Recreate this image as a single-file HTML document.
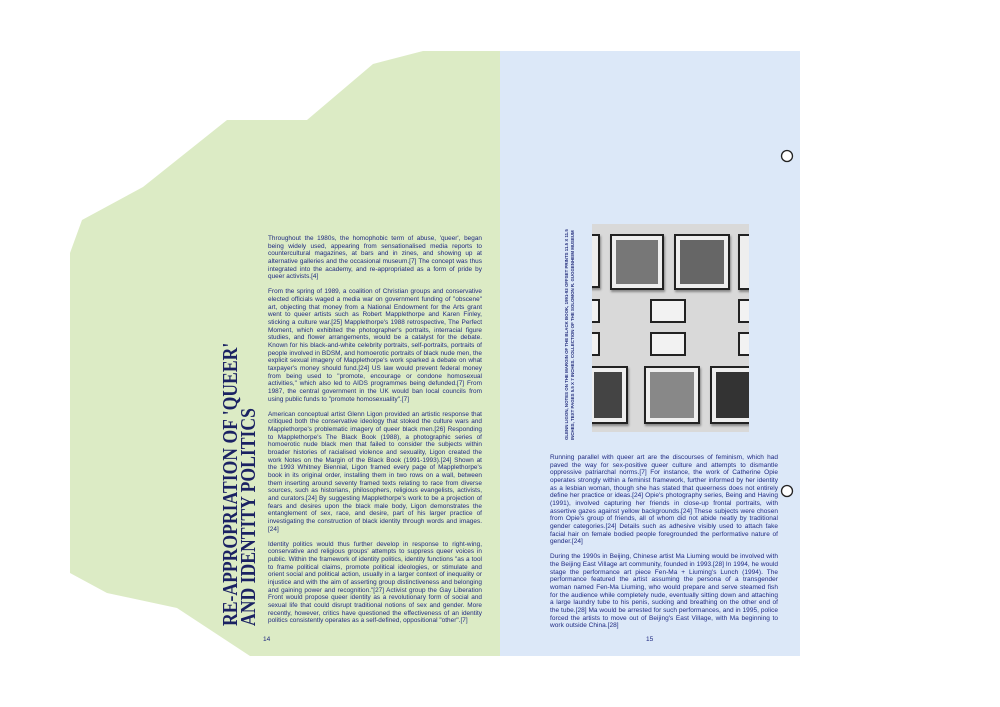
<!DOCTYPE html>
<html><head><meta charset="utf-8"><style>
body{margin:0;width:1000px;height:707px;background:#fff;position:relative;overflow:hidden;font-family:"Liberation Sans",sans-serif}
.abs{position:absolute}
.txt{color:#1e2880;font-size:6.5px;line-height:7.65px;text-align:justify;letter-spacing:0.03px}
.txt p{margin:0 0 7.5px 0}
.l{font-size:6.4px;letter-spacing:0.03px}
.ph{position:absolute;background:#eee;border:2px solid #222;box-shadow:1px 2px 2px #888}
.ph i{position:absolute;left:4px;top:4px;right:4px;bottom:4px;background:#555}
.pl{position:absolute;background:#f2f2f2;border:2px solid #222}
</style></head><body>
<svg class="abs" style="left:0;top:0" width="1000" height="707">
<polygon points="423,51 500,51 500,656 250,656 177,608 107,593 70,573 70,253 82,220 143,187 227,120 307,120 373,64" fill="#dcebc5"/>
<rect x="500" y="51" width="300" height="605" fill="#dce8f8"/>
<circle cx="787" cy="156" r="5.5" fill="#fff" stroke="#222" stroke-width="1.3"/>
<circle cx="787" cy="491" r="5.5" fill="#fff" stroke="#222" stroke-width="1.3"/>
</svg>

<div class="abs" style="left:221px;top:626px;transform-origin:0 0;transform:rotate(-90deg) scaleX(0.84);font-family:'Liberation Serif',serif;font-weight:bold;font-size:21px;line-height:18px;color:#1b2263;white-space:nowrap">RE-APPROPRIATION OF 'QUEER'<br>AND IDENTITY POLITICS</div>

<div class="abs txt l" style="left:268px;top:235px;width:214px">
<p>Throughout the 1980s, the homophobic term of abuse, 'queer', began being widely used, appearing from sensationalised media reports to countercultural magazines, at bars and in zines, and showing up at alternative galleries and the occasional museum.[7] The concept was thus integrated into the academy, and re-appropriated as a form of pride by queer activists.[4]</p>
<p>From the spring of 1989, a coalition of Christian groups and conservative elected officials waged a media war on government funding of "obscene" art, objecting that money from a National Endowment for the Arts grant went to queer artists such as Robert Mapplethorpe and Karen Finley, sticking a culture war.[25] Mapplethorpe's 1988 retrospective, The Perfect Moment, which exhibited the photographer's portraits, interracial figure studies, and flower arrangements, would be a catalyst for the debate. Known for his black-and-white celebrity portraits, self-portraits, portraits of people involved in BDSM, and homoerotic portraits of black nude men, the explicit sexual imagery of Mapplethorpe's work sparked a debate on what taxpayer's money should fund.[24] US law would prevent federal money from being used to "promote, encourage or condone homosexual activities," which also led to AIDS programmes being defunded.[7] From 1987, the central government in the UK would ban local councils from using public funds to "promote homosexuality".[7]</p>
<p>American conceptual artist Glenn Ligon provided an artistic response that critiqued both the conservative ideology that stoked the culture wars and Mapplethorpe's problematic imagery of queer black men.[26] Responding to Mapplethorpe's The Black Book (1988), a photographic series of homoerotic nude black men that failed to consider the subjects within broader histories of racialised violence and sexuality, Ligon created the work Notes on the Margin of the Black Book (1991-1993).[24] Shown at the 1993 Whitney Biennial, Ligon framed every page of Mapplethorpe's book in its original order, installing them in two rows on a wall, between them inserting around seventy framed texts relating to race from diverse sources, such as historians, philosophers, religious evangelists, activists, and curators.[24] By suggesting Mapplethorpe's work to be a projection of fears and desires upon the black male body, Ligon demonstrates the entanglement of sex, race, and desire, part of his larger practice of investigating the construction of black identity through words and images.[24]</p>
<p>Identity politics would thus further develop in response to right-wing, conservative and religious groups' attempts to suppress queer voices in public. Within the framework of identity politics, identity functions "as a tool to frame political claims, promote political ideologies, or stimulate and orient social and political action, usually in a larger context of inequality or injustice and with the aim of asserting group distinctiveness and belonging and gaining power and recognition."[27] Activist group the Gay Liberation Front would propose queer identity as a revolutionary form of social and sexual life that could disrupt traditional notions of sex and gender. More recently, however, critics have questioned the effectiveness of an identity politics consistently operates as a self-defined, oppositional "other".[7]</p>
</div>
<div class="abs txt" style="left:263px;top:636px">14</div>

<div class="abs" style="left:564px;top:440px;transform-origin:0 0;transform:rotate(-90deg);width:216px;font-size:4.4px;font-weight:bold;line-height:6px;color:#26307e;white-space:nowrap;overflow:hidden">GLENN LIGON, NOTES ON THE MARGIN OF THE BLACK BOOK, 1991-93 OFFSET PRINTS 11.5 X 11.5<br>INCHES, TEXT PAGES 5.5 X 7 INCHES. COLLECTION OF THE SOLOMON R. GUGGENHEIM MUSEUM</div>

<div class="abs" style="left:592px;top:224px;width:157px;height:208px;background:#d9d9d9;overflow:hidden">
<div class="ph" style="left:-8px;top:10px;width:12px;height:50px"></div>
<div class="ph" style="left:18px;top:10px;width:50px;height:52px"><i style="background:#777"></i></div>
<div class="ph" style="left:82px;top:10px;width:52px;height:52px"><i style="background:#666"></i></div>
<div class="ph" style="left:146px;top:10px;width:20px;height:52px"></div>
<div class="pl" style="left:-6px;top:75px;width:10px;height:20px"></div>
<div class="pl" style="left:58px;top:75px;width:32px;height:20px"></div>
<div class="pl" style="left:146px;top:75px;width:20px;height:20px"></div>
<div class="pl" style="left:-6px;top:108px;width:10px;height:20px"></div>
<div class="pl" style="left:58px;top:108px;width:32px;height:20px"></div>
<div class="pl" style="left:146px;top:108px;width:20px;height:20px"></div>
<div class="ph" style="left:-4px;top:142px;width:36px;height:54px"><i style="background:#444"></i></div>
<div class="ph" style="left:52px;top:142px;width:52px;height:54px"><i style="background:#888"></i></div>
<div class="ph" style="left:118px;top:142px;width:45px;height:54px"><i style="background:#333"></i></div>
</div>

<div class="abs txt" style="left:550px;top:454px;width:228px">
<p>Running parallel with queer art are the discourses of feminism, which had paved the way for sex-positive queer culture and attempts to dismantle oppressive patriarchal norms.[7] For instance, the work of Catherine Opie operates strongly within a feminist framework, further informed by her identity as a lesbian woman, though she has stated that queerness does not entirely define her practice or ideas.[24] Opie's photography series, Being and Having (1991), involved capturing her friends in close-up frontal portraits, with assertive gazes against yellow backgrounds.[24] These subjects were chosen from Opie's group of friends, all of whom did not abide neatly by traditional gender categories.[24] Details such as adhesive visibly used to attach fake facial hair on female bodied people foregrounded the performative nature of gender.[24]</p>
<p>During the 1990s in Beijing, Chinese artist Ma Liuming would be involved with the Beijing East Village art community, founded in 1993.[28] In 1994, he would stage the performance art piece Fen-Ma + Liuming's Lunch (1994). The performance featured the artist assuming the persona of a transgender woman named Fen-Ma Liuming, who would prepare and serve steamed fish for the audience while completely nude, eventually sitting down and attaching a large laundry tube to his penis, sucking and breathing on the other end of the tube.[28] Ma would be arrested for such performances, and in 1995, police forced the artists to move out of Beijing's East Village, with Ma beginning to work outside China.[28]</p>
</div>
<div class="abs txt" style="left:646px;top:636px">15</div>
</body></html>
